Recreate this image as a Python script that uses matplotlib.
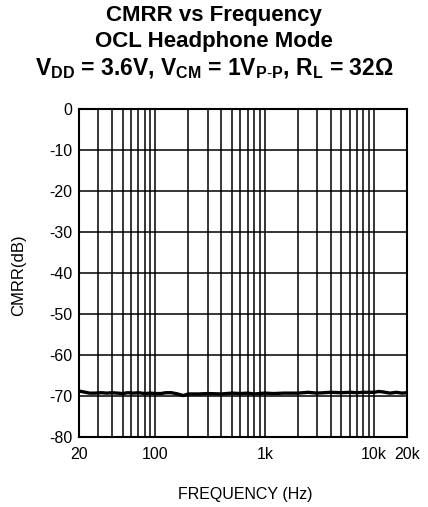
import matplotlib
matplotlib.use("Agg")
import matplotlib.pyplot as plt
import numpy as np

plt.rcParams['font.family'] = ['Liberation Sans', 'DejaVu Sans']
plt.rcParams['axes.unicode_minus'] = False
plt.rcParams['mathtext.fontset'] = 'custom'
plt.rcParams['mathtext.rm'] = 'Liberation Sans'
plt.rcParams['mathtext.bf'] = 'Liberation Sans:bold'

# CMRR curve
freq = [20, 22, 25, 28, 32, 36, 40, 45, 50, 56, 63, 70, 80, 90, 100, 112, 125,
        140, 160, 180, 200, 250, 300, 400, 500, 600, 700, 800, 1000, 1200,
        1500, 2000, 2500, 3000, 4000, 5000, 6000, 7000, 8000, 10000, 11000,
        12000, 14000, 16000, 18000, 20000]
cmrr = [-68.8, -69.0, -69.3, -69.3, -69.2, -69.3, -69.2, -69.3, -69.4, -69.2,
        -69.3, -69.2, -69.4, -69.3, -69.4, -69.4, -69.2, -69.2, -69.5, -69.9,
        -69.5, -69.5, -69.4, -69.5, -69.3, -69.4, -69.3, -69.5, -69.3, -69.4,
        -69.3, -69.3, -69.1, -69.3, -69.1, -69.2, -69.1, -69.2, -69.1, -69.1,
        -68.9, -69.0, -69.3, -69.1, -69.3, -69.2]

xticks = [20, 100, 1000, 10000, 20000]
xticklabels = ['20', '100', '1k', '10k', '20k']
yticks = list(range(-80, 1, 10))

W, H = 428, 507
fig = plt.figure(figsize=(W / 100, H / 100), dpi=100)
ax = fig.add_axes([79 / W, 1 - 437 / H, 328 / W, 328 / H])

ax.semilogx(freq, cmrr, color='black', lw=2.4)
ax.set_xlim(20, 20000)
ax.set_ylim(-80, 0)

# vertical grid at every decade subdivision
grid_x = [f * d for d in [10, 100, 1000, 10000] for f in range(1, 10)]
for g in grid_x:
    if 20 < g < 20000:
        ax.axvline(g, color='black', lw=1.1)
for y in yticks[1:-1]:
    ax.axhline(y, color='black', lw=1.1)

ax.set_xticks(xticks)
ax.set_xticklabels(xticklabels)
ax.xaxis.set_minor_locator(matplotlib.ticker.NullLocator())
ax.set_yticks(yticks)
ax.tick_params(length=0, labelsize=11.5)
ax.tick_params(axis='x', pad=7)
ax.tick_params(axis='y', pad=5)
for s in ax.spines.values():
    s.set_linewidth(1.5)

fig.text(19 / W, 1 - 275 / H, 'CMRR(dB)', rotation=90, ha='center', va='center',
         fontsize=12)
fig.text(245 / W, 1 - 495 / H, 'FREQUENCY (Hz)', ha='center', va='center', fontsize=11.5)

fig.text(214 / W, 1 - 16 / H, 'CMRR vs Frequency', ha='center', va='center',
         fontsize=16, fontweight='bold')
fig.text(214 / W, 1 - 42 / H, 'OCL Headphone Mode', ha='center', va='center',
         fontsize=16, fontweight='bold')
fig.text(214 / W, 1 - 69 / H,
         r'V$_{\mathbf{DD}}$ = 3.6V, V$_{\mathbf{CM}}$ = 1V$_{\mathbf{P\text{-}P}}$, R$_{\mathbf{L}}$ = 32$\mathbf{\Omega}$',
         ha='center', va='center', fontsize=16.5, fontweight='bold')

fig.savefig('out.png', dpi=100)
